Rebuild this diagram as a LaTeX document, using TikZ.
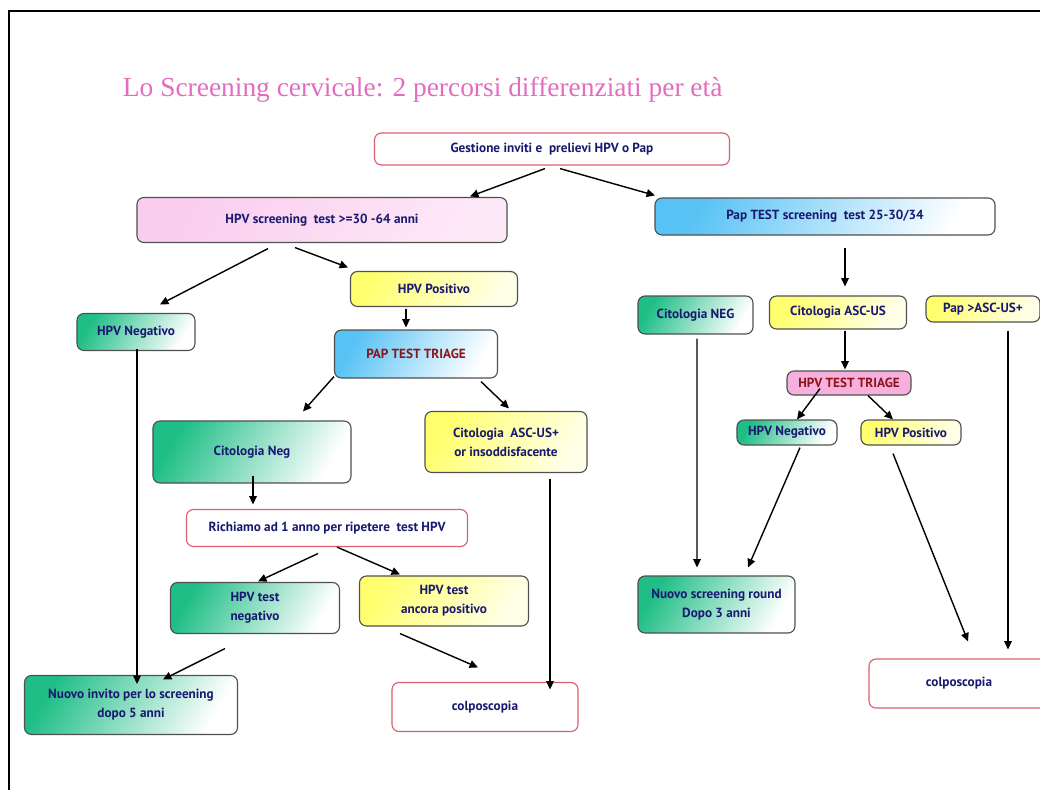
\documentclass[tikz,border=0pt]{standalone}
\usepackage{fontspec}
\newfontfamily\boxfont{PT Sans}
\newfontfamily\titlefont{Liberation Serif}
\usetikzlibrary{arrows.meta,calc}

\definecolor{navytext}{RGB}{25,25,112}
\definecolor{redtext}{RGB}{140,20,25}
\definecolor{titlepink}{RGB}{226,108,192}
\definecolor{redline}{RGB}{214,96,110}
\definecolor{greyline}{RGB}{80,80,80}
\definecolor{greenA}{RGB}{32,190,135}
\definecolor{yellowA}{RGB}{255,255,110}
\definecolor{yellowB}{RGB}{255,255,232}
\definecolor{blueA}{RGB}{88,194,245}
\definecolor{pinkA}{RGB}{250,205,238}
\definecolor{pinkB}{RGB}{253,232,248}
\definecolor{pinkC}{RGB}{246,176,222}

\begin{document}
\begin{tikzpicture}[
  x=0.025cm,y=-0.025cm,
  every node/.style={font=\boxfont\bfseries\fontsize{9.4}{13.5}\selectfont,text=navytext},
  basebox/.style={rectangle,rounded corners=5pt,line width=0.8pt,align=center,inner sep=2pt},
  whitebox/.style={basebox,draw=redline,fill=white},
  greenbox/.style={basebox,draw=greyline,left color=greenA,right color=white,shading angle=60},
  yellowbox/.style={basebox,draw=greyline,left color=yellowA,right color=yellowB,shading angle=60},
  bluebox/.style={basebox,draw=greyline,left color=blueA,right color=white,shading angle=60},
  pinkbox/.style={basebox,draw=greyline,left color=pinkA,right color=pinkB,shading angle=60},
  flowarrow/.style={-{Triangle[length=6pt,width=5.5pt]},line width=1pt,black},
]
\useasboundingbox (0,0) rectangle (1040,790);

% ---------- Frame and title ----------
\draw[line width=1pt] (9,790) -- (9,11) -- (1040,11);
\node[font=\titlefont\fontsize{19.5}{22}\selectfont,text=titlepink,anchor=west] (title) at (118,90)
  {Lo Screening cervicale: 2 percorsi differenziati per età};

% ---------- Top ----------
\node[whitebox,minimum width=8.875cm,minimum height=0.8cm] (gest) at (552,149) {Gestione inviti e\ \ prelievi HPV o Pap};
\node[pinkbox,minimum width=9.25cm,minimum height=1.125cm] (hpvs) at (322,220) {HPV screening\ \ test >=30 -64 anni};
\node[bluebox,minimum width=8.5cm,minimum height=0.925cm] (paps) at (825,216.5) {Pap TEST screening\ \ test 25-30/34};

% ---------- HPV path ----------
\node[yellowbox,minimum width=4.175cm,minimum height=0.875cm] (hpvpos) at (434,289) {HPV Positivo};
\node[greenbox,minimum width=2.95cm,minimum height=0.925cm] (hpvneg) at (136,332) {HPV Negativo};
\node[bluebox,minimum width=4.075cm,minimum height=1.2cm,text=redtext] (ptriage) at (416,354) {PAP TEST TRIAGE};
\node[greenbox,minimum width=4.95cm,minimum height=1.55cm] (citneg) at (252,452) {Citologia Neg};
\node[yellowbox,minimum width=4.05cm,minimum height=1.525cm] (citasc) at (506,442) {Citologia\ \ ASC-US+\\or insoddisfacente};
\node[whitebox,minimum width=7.025cm,minimum height=0.925cm] (richiamo) at (327,528) {Richiamo ad 1 anno per ripetere\ \ test HPV};
\node[greenbox,minimum width=4.225cm,minimum height=1.275cm] (hpvtneg) at (255,608) {HPV test\\negativo};
\node[yellowbox,minimum width=4.225cm,minimum height=1.25cm] (hpvtpos) at (444,601) {HPV test\\ancora positivo};
\node[greenbox,minimum width=5.325cm,minimum height=1.475cm] (nuovoinv) at (131,705) {Nuovo invito per lo screening\\dopo 5 anni};
\node[whitebox,minimum width=4.65cm,minimum height=1.225cm] (colpoL) at (485,707) {colposcopia};

% ---------- Pap path ----------
\node[greenbox,minimum width=2.875cm,minimum height=0.95cm] (citNEG) at (695.5,315) {Citologia NEG};
\node[yellowbox,minimum width=3.425cm,minimum height=0.825cm] (citASCUS) at (838,312.5) {Citologia ASC-US};
\node[yellowbox,minimum width=2.85cm,minimum height=0.65cm] (papasc) at (983,309) {Pap >ASC-US+};
\node[basebox,draw=greyline,fill=pinkC,minimum width=3.1cm,minimum height=0.6cm,text=redtext] (htriage) at (849,383) {HPV TEST TRIAGE};
\node[greenbox,minimum width=2.5cm,minimum height=0.625cm] (hnegR) at (787,432.5) {HPV Negativo};
\node[yellowbox,minimum width=2.5cm,minimum height=0.625cm] (hposR) at (911,432.5) {HPV Positivo};
\node[greenbox,minimum width=3.925cm,minimum height=1.425cm] (nuovoscr) at (716.5,604.5) {Nuovo screening round\\Dopo 3 anni};
\node[whitebox,minimum width=4.5cm,minimum height=1.225cm] (colpoR) at (959,683.5) {colposcopia};

% ---------- Arrows, HPV path ----------
\draw[flowarrow] ($(gest.south)+(-7,3)$) -- ($(hpvs.north)+(148,-0.5)$);
\draw[flowarrow] ($(gest.south)+(8,3)$) -- ($(paps.north)+(-170,-2)$);
\draw[flowarrow] ($(hpvs.south)+(-54,5.5)$) -- ($(hpvneg.north)+(24,-8.5)$);
\draw[flowarrow] ($(hpvs.south)+(-27,4.5)$) -- ($(hpvpos.north)+(-86,-3.5)$);
\draw[flowarrow] ($(hpvpos.south)+(-28,1.5)$) -- ($(ptriage.north)+(-10,-2)$);
\draw[flowarrow] ($(ptriage.south)+(-82,-2)$) -- ($(citneg.north)+(51,-9)$);
\draw[flowarrow] ($(ptriage.south)+(65,3)$) -- ($(citasc.north)+(3,-2.5)$);
\draw[flowarrow] ($(citneg.south)+(1,-8)$) -- ($(richiamo.north)+(-74,-4.5)$);
\draw[flowarrow] ($(hpvneg.south)+(1,-2)$) -- ($(nuovoinv.north)+(6,9)$);
\draw[flowarrow] ($(richiamo.south)+(-9,6.5)$) -- ($(hpvtneg.north)+(3,-0.5)$);
\draw[flowarrow] ($(richiamo.south)+(10,0)$) -- ($(hpvtpos.north)+(-44,-1)$);
\draw[flowarrow] ($(hpvtneg.south)+(-30,14.5)$) -- ($(nuovoinv.north)+(32,4.5)$);
\draw[flowarrow] ($(hpvtpos.south)+(-44,7)$) -- ($(colpoL.north)+(-7,-14.5)$);
\draw[flowarrow] ($(citasc.south)+(44,5.5)$) -- ($(colpoL.north)+(65,7.5)$);

% ---------- Arrows, Pap path ----------
\draw[flowarrow] ($(paps.south)+(20,12)$) -- ($(citASCUS.north)+(7,-9)$);
\draw[flowarrow] ($(citASCUS.south)+(7,1)$) -- ($(htriage.north)+(-4,-1)$);
\draw[flowarrow] ($(htriage.south)+(-29,-7)$) -- ($(hnegR.north)+(10,0)$);
\draw[flowarrow] ($(htriage.south)+(19,0)$) -- ($(hposR.north)+(-18,0)$);
\draw[flowarrow] ($(citNEG.south)+(1.5,4)$) -- ($(nuovoscr.north)+(-19.5,-8)$);
\draw[flowarrow] ($(hnegR.south)+(13,2)$) -- ($(nuovoscr.north)+(31.5,-8)$);
\draw[flowarrow] ($(hposR.south)+(-18,8)$) -- ($(colpoR.north)+(9,-17)$);
\draw[flowarrow] ($(papasc.south)+(25,8)$) -- ($(colpoR.north)+(49,-9)$);

\end{tikzpicture}
\end{document}
